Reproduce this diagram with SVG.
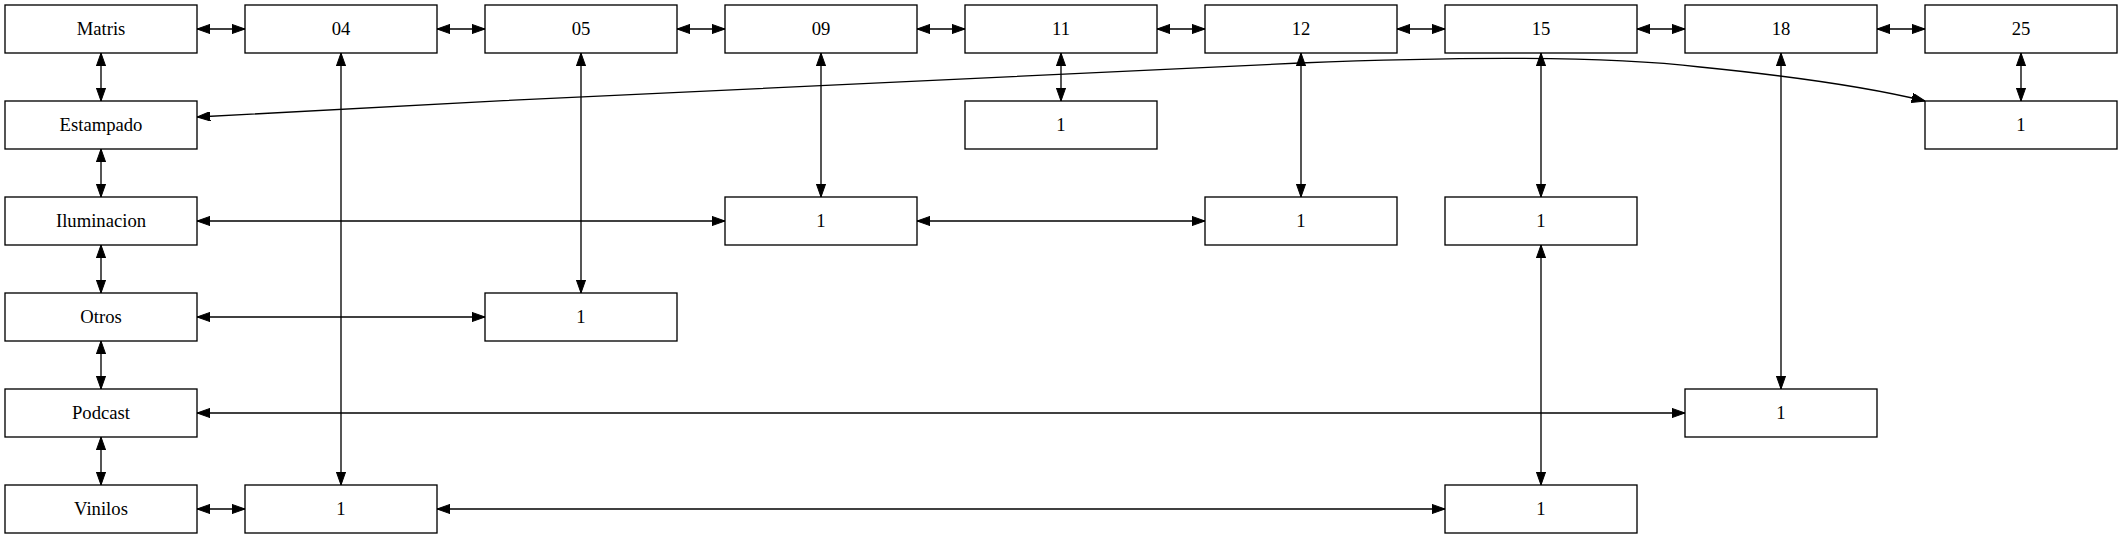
<svg xmlns="http://www.w3.org/2000/svg" width="2123" height="539" viewBox="0 0 2123 539">
<style>
rect.n{fill:#fff;stroke:#000;stroke-width:1.33}
text{font-family:'Liberation Serif',serif;font-size:18.67px;text-anchor:middle;fill:#000}
.e path{fill:none;stroke:#000;stroke-width:1.33;marker-start:url(#ah);marker-end:url(#ah)}
</style>
<defs>
<marker id="ah" markerUnits="userSpaceOnUse" viewBox="0 0 13.3 9.4" refX="13.3" refY="4.7" markerWidth="13.3" markerHeight="9.4" orient="auto-start-reverse">
<path d="M0,0 L13.3,4.7 L0,9.4 z" fill="#000" stroke="#000" stroke-width="1"/>
</marker>
</defs>
<rect width="2123" height="539" fill="#fff"/>
<g class="e" id="connectors">
<path d="M197,29 L245,29"/>
<path d="M437,29 L485,29"/>
<path d="M677,29 L725,29"/>
<path d="M917,29 L965,29"/>
<path d="M1157,29 L1205,29"/>
<path d="M1397,29 L1445,29"/>
<path d="M1637,29 L1685,29"/>
<path d="M1877,29 L1925,29"/>
<path d="M101,53 L101,101"/>
<path d="M101,149 L101,197"/>
<path d="M101,245 L101,293"/>
<path d="M101,341 L101,389"/>
<path d="M101,437 L101,485"/>
<path d="M197,509 L245,509"/>
<path d="M341,53 L341,485"/>
<path d="M581,53 L581,293"/>
<path d="M821,53 L821,197"/>
<path d="M1061,53 L1061,101"/>
<path d="M1301,53 L1301,197"/>
<path d="M1541,53 L1541,197"/>
<path d="M1781,53 L1781,389"/>
<path d="M2021,53 L2021,101"/>
<path d="M197,117 C600,95 1100,70 1300,63 C1450,57 1600,55 1700,67 C1800,77 1880,90 1925,101"/>
<path d="M197,221 L725,221"/>
<path d="M917,221 L1205,221"/>
<path d="M197,317 L485,317"/>
<path d="M197,413 L1685,413"/>
<path d="M437,509 L1445,509"/>
<path d="M1541,245 L1541,485"/>
</g>
<g font-family="Liberation Serif, serif">
<g id="n_matris"><rect class="n" x="5" y="5" width="192" height="48"/><text x="101" y="35">Matris</text></g>
<g id="n_04"><rect class="n" x="245" y="5" width="192" height="48"/><text x="341" y="35">04</text></g>
<g id="n_05"><rect class="n" x="485" y="5" width="192" height="48"/><text x="581" y="35">05</text></g>
<g id="n_09"><rect class="n" x="725" y="5" width="192" height="48"/><text x="821" y="35">09</text></g>
<g id="n_11"><rect class="n" x="965" y="5" width="192" height="48"/><text x="1061" y="35">11</text></g>
<g id="n_12"><rect class="n" x="1205" y="5" width="192" height="48"/><text x="1301" y="35">12</text></g>
<g id="n_15"><rect class="n" x="1445" y="5" width="192" height="48"/><text x="1541" y="35">15</text></g>
<g id="n_18"><rect class="n" x="1685" y="5" width="192" height="48"/><text x="1781" y="35">18</text></g>
<g id="n_25"><rect class="n" x="1925" y="5" width="192" height="48"/><text x="2021" y="35">25</text></g>
<g id="n_estampado"><rect class="n" x="5" y="101" width="192" height="48"/><text x="101" y="131">Estampado</text></g>
<g id="n_11_estampado"><rect class="n" x="965" y="101" width="192" height="48"/><text x="1061" y="131">1</text></g>
<g id="n_25_estampado"><rect class="n" x="1925" y="101" width="192" height="48"/><text x="2021" y="131">1</text></g>
<g id="n_iluminacion"><rect class="n" x="5" y="197" width="192" height="48"/><text x="101" y="227">Iluminacion</text></g>
<g id="n_09_iluminacion"><rect class="n" x="725" y="197" width="192" height="48"/><text x="821" y="227">1</text></g>
<g id="n_12_iluminacion"><rect class="n" x="1205" y="197" width="192" height="48"/><text x="1301" y="227">1</text></g>
<g id="n_15_iluminacion"><rect class="n" x="1445" y="197" width="192" height="48"/><text x="1541" y="227">1</text></g>
<g id="n_otros"><rect class="n" x="5" y="293" width="192" height="48"/><text x="101" y="323">Otros</text></g>
<g id="n_05_otros"><rect class="n" x="485" y="293" width="192" height="48"/><text x="581" y="323">1</text></g>
<g id="n_podcast"><rect class="n" x="5" y="389" width="192" height="48"/><text x="101" y="419">Podcast</text></g>
<g id="n_18_podcast"><rect class="n" x="1685" y="389" width="192" height="48"/><text x="1781" y="419">1</text></g>
<g id="n_vinilos"><rect class="n" x="5" y="485" width="192" height="48"/><text x="101" y="515">Vinilos</text></g>
<g id="n_04_vinilos"><rect class="n" x="245" y="485" width="192" height="48"/><text x="341" y="515">1</text></g>
<g id="n_15_vinilos"><rect class="n" x="1445" y="485" width="192" height="48"/><text x="1541" y="515">1</text></g>
</g>
</svg>
